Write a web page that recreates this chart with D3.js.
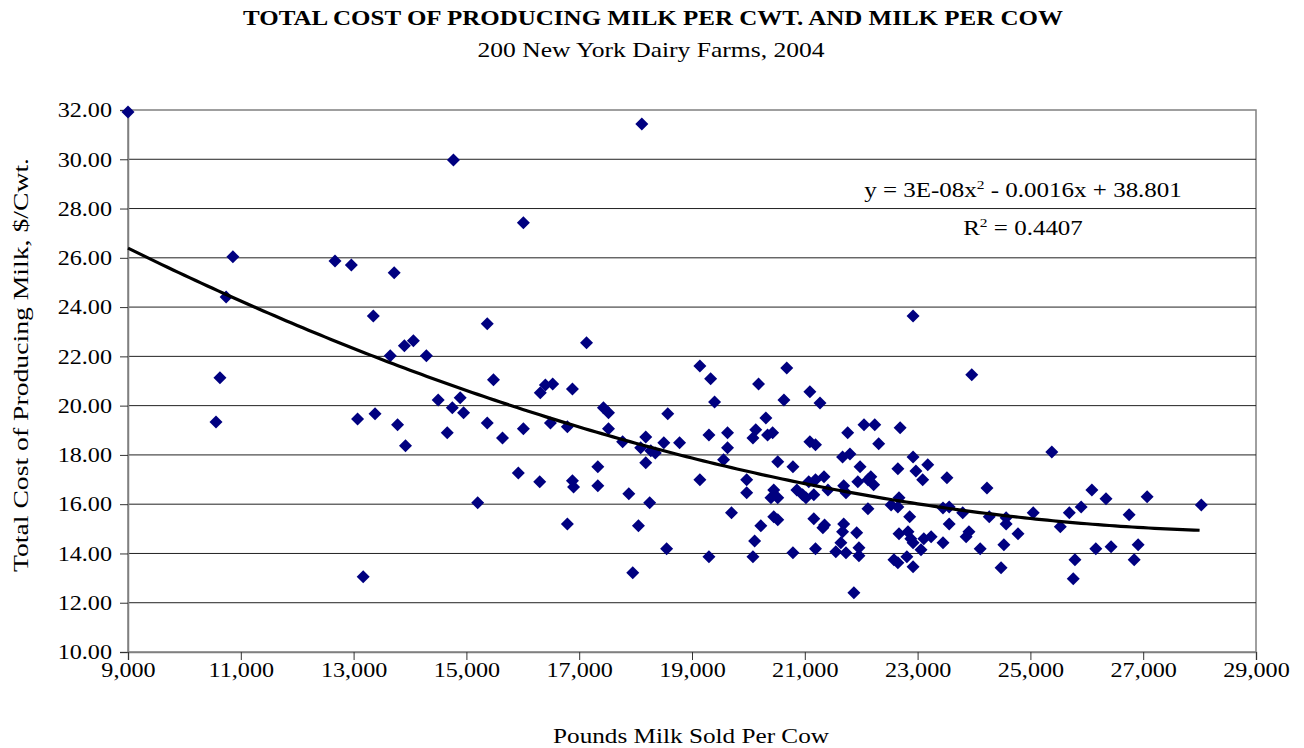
<!DOCTYPE html>
<html><head><meta charset="utf-8">
<script src="https://cdn.jsdelivr.net/npm/d3@7"></script>
<style>
html,body{margin:0;padding:0;background:#fff;}
svg{display:block;}
text{font-family:"Liberation Serif","Times New Roman",serif;}
</style></head>
<body>
<svg id="chart" width="1304" height="748"></svg>
<script>
// ---- data ----
const milkPerCow = [
9000,10560,10630,10740,10860,12670,12960,13720,13350,13650,13900,14060,14290,13070,13380,13780,13920,13170,
14500,14660,14750,14890,14950,14770,15370,15370,15480,15640,16010,16010,15200,15920,16300,16310,16400,16530,
16490,16790,16880,17130,16880,16900,16790,17330,17330,17430,17520,17520,17770,17880,17950,18050,18110,18180,
18090,18270,18350,18180,18250,18500,18550,18570,18780,19140,19140,19300,19300,19330,19400,19560,19630,19630,
19700,19970,19970,20080,20130,20080,20110,20180,20220,20310,20340,20430,20450,20400,20520,20520,20450,20520,
20630,20680,20790,20790,20860,20960,21020,21070,21090,21090,21190,21160,21160,21190,21190,21270,21340,21320,
21350,21410,21550,21640,21670,21690,21690,21670,21730,21730,21760,21800,21870,21920,21940,21960,21960,21980,
22050,22120,22120,22170,22220,22240,22310,22530,22580,22650,22650,22650,22670,22670,22690,22810,22830,22860,
22880,22920,22920,22920,22920,22970,23060,23090,23110,23180,23240,23450,23450,23520,23560,23560,23800,23860,
23910,23960,24110,24230,24270,24480,24530,24570,24570,24780,25050,25380,25530,25690,25760,25790,25900,26090,
26160,26340,26430,26750,26840,26910,27070,28030
];
const costPerCwt = [
31.92,19.34,21.13,24.41,26.04,25.87,25.71,25.39,23.64,22.02,22.43,22.63,22.02,19.46,19.67,19.22,18.37,13.05,
20.23,18.90,19.91,20.32,19.71,29.97,19.30,23.32,21.05,18.69,19.06,27.42,16.06,17.27,16.91,20.52,20.84,20.88,
19.30,19.14,20.68,22.55,16.95,16.70,15.20,17.52,16.75,19.91,19.71,19.06,18.53,16.42,13.22,15.12,31.43,18.73,
18.29,18.17,18.08,17.68,16.06,18.49,14.19,19.67,18.49,16.99,21.61,18.81,13.87,21.09,20.15,17.80,18.29,18.90,
15.65,16.99,16.46,18.69,19.02,13.87,14.51,20.88,15.12,19.50,18.81,18.90,16.58,16.26,16.26,17.72,15.49,15.37,
20.23,21.53,17.52,14.03,16.58,16.38,16.26,16.91,20.56,18.53,18.41,16.38,15.41,16.99,14.19,20.11,17.11,15.04,
15.16,16.58,14.07,14.43,17.92,16.75,15.20,14.88,16.46,14.03,18.90,18.04,12.40,14.84,16.91,14.23,13.91,17.52,
19.22,16.99,15.81,17.11,16.79,19.22,18.45,15.97,13.74,13.62,15.89,17.44,16.26,14.80,19.10,13.87,14.88,15.49,
14.60,14.43,17.92,13.46,23.64,17.35,14.15,16.99,14.60,17.60,14.68,15.85,14.43,17.07,15.89,15.20,15.65,14.68,
14.88,21.25,14.19,16.66,15.49,13.42,14.35,15.45,15.20,14.80,15.65,18.12,15.08,15.65,12.97,13.74,15.89,16.58,
14.19,16.22,14.27,15.57,13.74,14.35,16.30,15.97
];
// trendline (2nd order polynomial) coefficients as drawn: a*x^2 + b*x + c
const trendCoef = [2.771e-8, -0.001628, 38.801];
const xTicks = [9000,11000,13000,15000,17000,19000,21000,23000,25000,27000,29000];
const yTicks = [10,12,14,16,18,20,22,24,26,28,30,32];
const titleText = "TOTAL COST OF PRODUCING MILK PER CWT. AND MILK PER COW";
const subtitleText = "200 New York Dairy Farms, 2004";
const xTitle = "Pounds Milk Sold Per Cow";
const yTitle = "Total Cost of Producing Milk, $/Cwt.";

// ---- layout ----
const svg = d3.select("#chart");
const L = 128, R = 1256, T = 110, B = 652;
const STRETCH = 1.15;
const x = d3.scaleLinear().domain([9000, 29000]).range([L, R]);
const y = d3.scaleLinear().domain([10, 32]).range([B, T]);

function stretchText(sel, f) {
  sel.each(function () {
    const w = this.getComputedTextLength();
    d3.select(this).attr("textLength", w * f).attr("lengthAdjust", "spacingAndGlyphs");
  });
}

// plot border
svg.append("rect").attr("x", L).attr("y", T).attr("width", R - L).attr("height", B - T)
  .attr("fill", "none").attr("stroke", "#808080").attr("stroke-width", 1.5);

// gridlines
svg.append("g").selectAll("line").data(yTicks.filter(d => d > 10 && d < 32)).join("line")
  .attr("x1", L).attr("x2", R).attr("y1", d => y(d)).attr("y2", d => y(d))
  .attr("stroke", "#222").attr("stroke-width", 1);

// axes
const yAxis = svg.append("g").attr("transform", `translate(${L},0)`)
  .call(d3.axisLeft(y).tickValues(yTicks).tickFormat(d3.format(".2f")).tickSize(8).tickPadding(8));
const xAxis = svg.append("g").attr("transform", `translate(0,${B})`)
  .call(d3.axisBottom(x).tickValues(xTicks).tickFormat(d3.format(",")).tickSize(8).tickPadding(2));
[yAxis, xAxis].forEach(g => {
  g.select(".domain").attr("stroke", "#808080").attr("stroke-width", 1.5);
  g.selectAll(".tick line").attr("stroke", "#333");
  g.selectAll(".tick text").attr("font-family", '"Liberation Serif",serif').attr("font-size", 21).attr("fill", "#000");
  stretchText(g.selectAll(".tick text"), STRETCH);
});

// points
const pts = milkPerCow.map((v, i) => [v, costPerCwt[i]]);
const s = 6.5;
svg.append("g").selectAll("path").data(pts).join("path")
  .attr("d", `M0,${-s}L${s},0L0,${s}L${-s},0Z`)
  .attr("transform", d => `translate(${x(d[0])},${y(d[1])})`)
  .attr("fill", "#000080");

// trendline
const tx = d3.range(9000, d3.max(milkPerCow) + 1, 100);
const line = d3.line().x(d => x(d)).y(d => y(trendCoef[0] * d * d + trendCoef[1] * d + trendCoef[2]));
svg.append("path").datum(tx).attr("d", line).attr("fill", "none")
  .attr("stroke", "#000").attr("stroke-width", 3.2);

// equation labels (horizontally stretched group)
const eqG = svg.append("g").attr("transform", `translate(1023,197) scale(1.19,1)`);
const eq = eqG.append("text").attr("x", 0).attr("y", 0).attr("text-anchor", "middle").attr("font-size", 21);
eq.append("tspan").text("y = 3E-08x");
eq.append("tspan").attr("dy", -8).attr("font-size", 13).text("2");
eq.append("tspan").attr("dy", 8).text(" - 0.0016x + 38.801");
const r2G = svg.append("g").attr("transform", `translate(1023,235) scale(1.19,1)`);
const r2 = r2G.append("text").attr("x", 0).attr("y", 0).attr("text-anchor", "middle").attr("font-size", 21);
r2.append("tspan").text("R");
r2.append("tspan").attr("dy", -8).attr("font-size", 13).text("2");
r2.append("tspan").attr("dy", 8).text(" = 0.4407");

// titles
svg.append("text").attr("x", 653).attr("y", 25).attr("text-anchor", "middle")
  .attr("font-size", 22).attr("font-weight", "bold")
  .attr("textLength", 820).attr("lengthAdjust", "spacingAndGlyphs").text(titleText);
svg.append("text").attr("x", 651).attr("y", 57).attr("text-anchor", "middle")
  .attr("font-size", 21)
  .attr("textLength", 347).attr("lengthAdjust", "spacingAndGlyphs").text(subtitleText);
svg.append("text").attr("x", 691).attr("y", 743).attr("text-anchor", "middle")
  .attr("font-size", 21)
  .attr("textLength", 276).attr("lengthAdjust", "spacingAndGlyphs").text(xTitle);
svg.append("text").attr("transform", "translate(28,365) rotate(-90)").attr("text-anchor", "middle")
  .attr("font-size", 21)
  .attr("textLength", 414).attr("lengthAdjust", "spacingAndGlyphs").text(yTitle);
</script>
</body></html>
